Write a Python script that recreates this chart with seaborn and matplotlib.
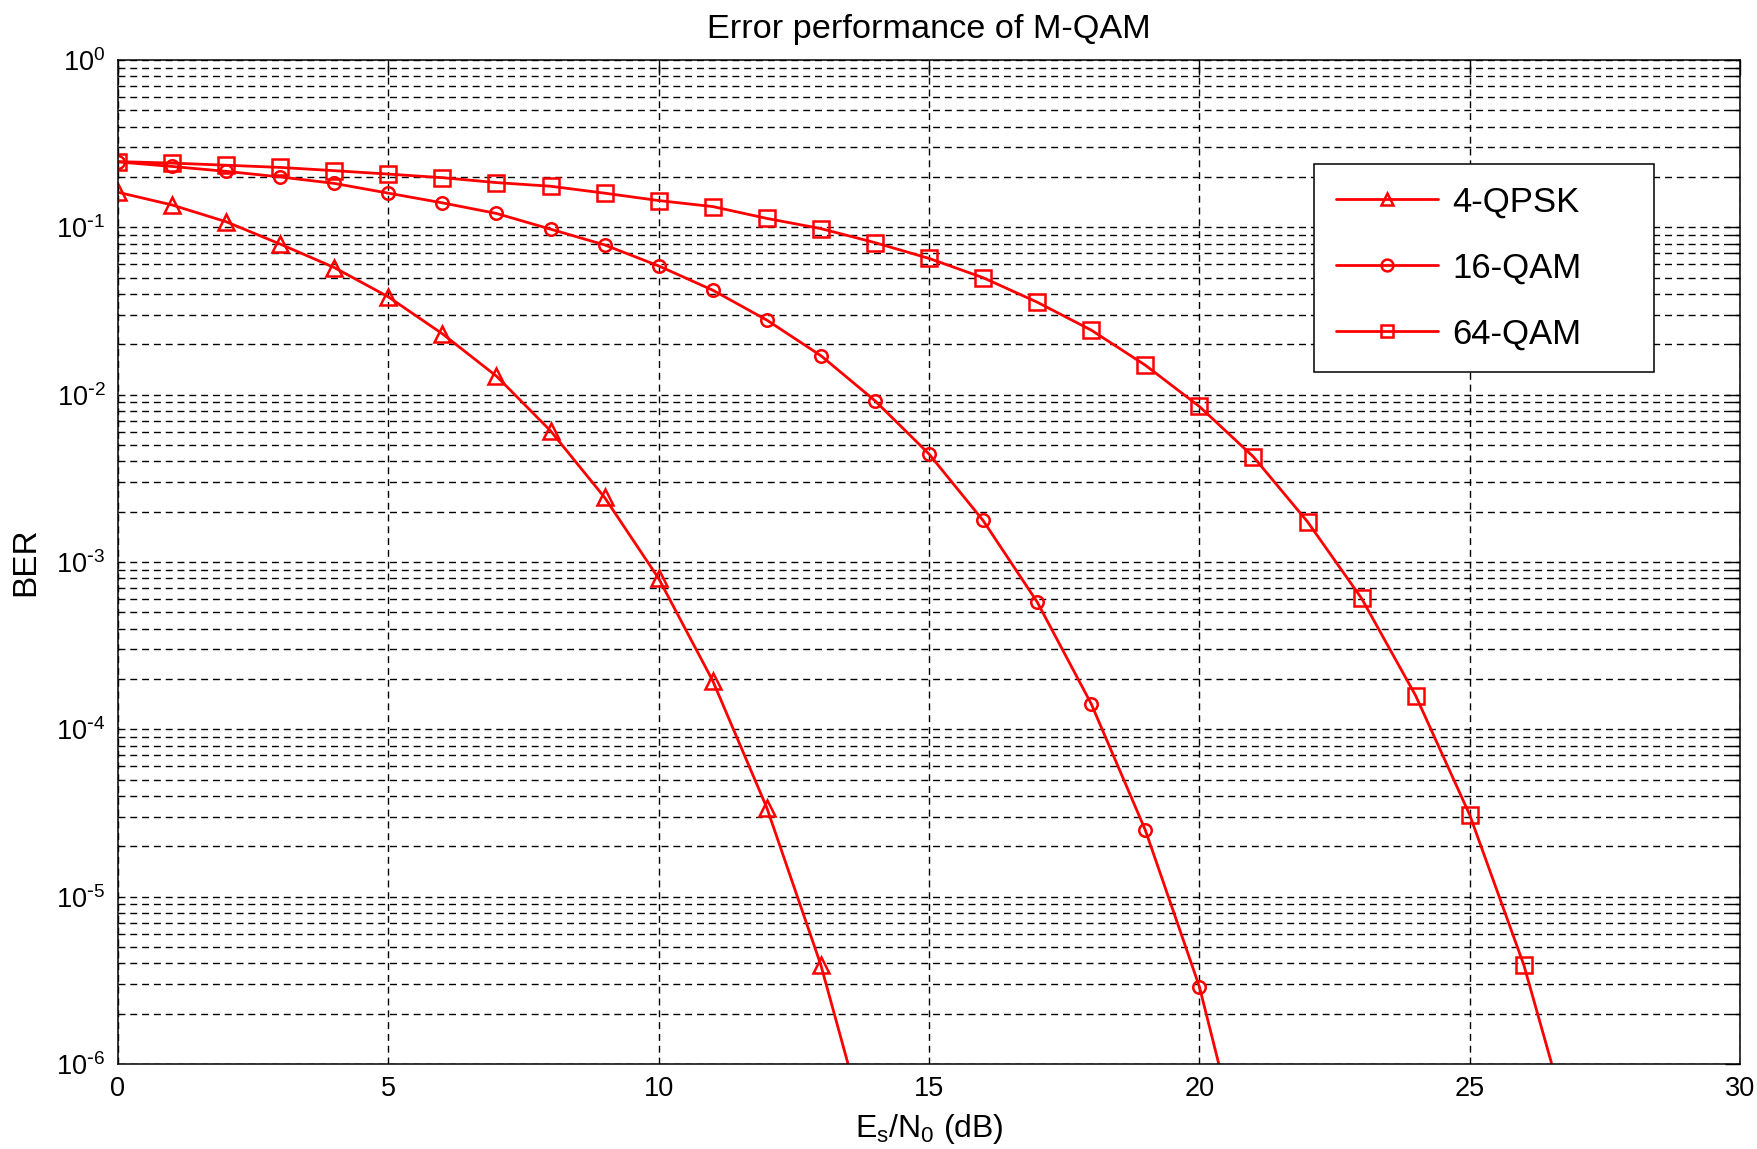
import numpy as np
import pandas as pd
import matplotlib
matplotlib.use("Agg")
import matplotlib.pyplot as plt
from matplotlib.ticker import LogLocator, FuncFormatter, NullLocator, FixedLocator
import seaborn as sns

# Es/N0 grid (dB) for each modulation
snr_qpsk = list(range(0, 15))
snr_16qam = list(range(0, 22))
snr_64qam = list(range(0, 28))

# Bit error rates
ber_qpsk = [0.162, 0.136, 0.108, 0.0794, 0.0575, 0.0384, 0.0231, 0.0129,
            0.00608, 0.00243, 7.97e-4, 1.95e-4, 3.40e-5, 3.90e-6, 2.6e-7]
ber_16qam = [0.246, 0.231, 0.216, 0.200, 0.183, 0.160, 0.140, 0.121,
             0.0975, 0.0785, 0.0588, 0.0421, 0.0279, 0.0171, 0.0092,
             0.00442, 0.00177, 5.77e-4, 1.42e-4, 2.50e-5, 2.90e-6, 1.5e-7]
ber_64qam = [0.247, 0.242, 0.235, 0.228, 0.218, 0.208, 0.198, 0.185,
             0.176, 0.160, 0.1445, 0.133, 0.113, 0.0982, 0.081, 0.0652,
             0.050, 0.0357, 0.0243, 0.0150, 0.0085, 0.00425, 0.00174,
             6.06e-4, 1.59e-4, 3.08e-5, 3.91e-6, 2.8e-7]

labels = ["4-QPSK", "16-QAM", "64-QAM"]
x_ticks = [0, 5, 10, 15, 20, 25, 30]

sns.set_theme(style="white")
plt.rcParams["font.family"] = ["Liberation Sans", "DejaVu Sans"]
plt.rcParams["mathtext.default"] = "regular"
plt.rcParams["axes.unicode_minus"] = False
for key in ("text.color", "axes.labelcolor", "xtick.color", "ytick.color",
            "xtick.labelcolor", "ytick.labelcolor"):
    plt.rcParams[key] = "black"

fig = plt.figure(figsize=(17.58, 11.49), dpi=100)
ax = fig.add_axes([0.0671, 0.0740, 0.9898 - 0.0671, 0.9478 - 0.0740])

series = [
    (snr_qpsk, ber_qpsk, "^", 11.5),
    (snr_16qam, ber_16qam, "o", 9.0),
    (snr_64qam, ber_64qam, "s", 11.0),
]
for (x, y, mk, ms), lab in zip(series, labels):
    df = pd.DataFrame({"snr": x, "ber": y})
    sns.lineplot(data=df, x="snr", y="ber", ax=ax, color="red",
                 linewidth=2.0, marker=mk, markersize=ms,
                 markerfacecolor="none", markeredgecolor="red",
                 markeredgewidth=1.8, label=lab, legend=False)

ax.set_yscale("log")
ax.set_xlim(0, 30)
ax.set_ylim(1e-6, 1)


def decade_label(v, pos):
    e = int(round(np.log10(v)))
    if e < 0:
        return r"$10^{\text{-}%d}$" % (-e)
    return r"$10^{%d}$" % e


ax.xaxis.set_major_locator(FixedLocator(x_ticks))
ax.xaxis.set_minor_locator(NullLocator())
ax.yaxis.set_major_locator(FixedLocator([10.0 ** k for k in range(-6, 1)]))
ax.yaxis.set_minor_locator(LogLocator(base=10, subs=np.arange(2, 10), numticks=100))
ax.yaxis.set_major_formatter(FuncFormatter(decade_label))

grid_style = dict(color="black", linestyle=(0, (5, 3.5)), linewidth=1.0)
ax.grid(True, which="major", axis="both", **grid_style)
ax.grid(True, which="minor", axis="y", **grid_style)
ax.set_axisbelow(True)

ax.tick_params(which="both", direction="in", top=True, right=True,
               color="black", labelcolor="black", width=1.0)
ax.tick_params(which="major", length=11, labelsize=19.5, pad=9)
ax.tick_params(which="minor", length=7)

for sp in ax.spines.values():
    sp.set_visible(True)
    sp.set_color("black")
    sp.set_linewidth(1.1)

ax.set_title("Error performance of M-QAM", fontsize=24.7, pad=16, color="black")
ax.set_xlabel(r"$E_s/N_0$ (dB)", fontsize=23, labelpad=7, color="black")
ax.set_ylabel("BER", fontsize=24, labelpad=11, color="black")

# Legend box stretched to a fixed width, entries left-aligned inside it
handles, hl = ax.get_legend_handles_labels()
leg = ax.legend(handles, hl, loc="upper left",
                bbox_to_anchor=(0.7374, 0.687, 0.2096, 0.2094), mode="expand",
                borderaxespad=0, fontsize=25, frameon=True, fancybox=False,
                shadow=False, handlelength=2.95, handletextpad=0.42,
                labelspacing=0.95, borderpad=0.62, framealpha=1,
                labelcolor="black")
leg.get_frame().set_edgecolor("black")
leg.get_frame().set_linewidth(1.1)
for h in leg.legend_handles:
    h.set_markersize(8.5)

fig.savefig("out.png", dpi=100, facecolor="white")
